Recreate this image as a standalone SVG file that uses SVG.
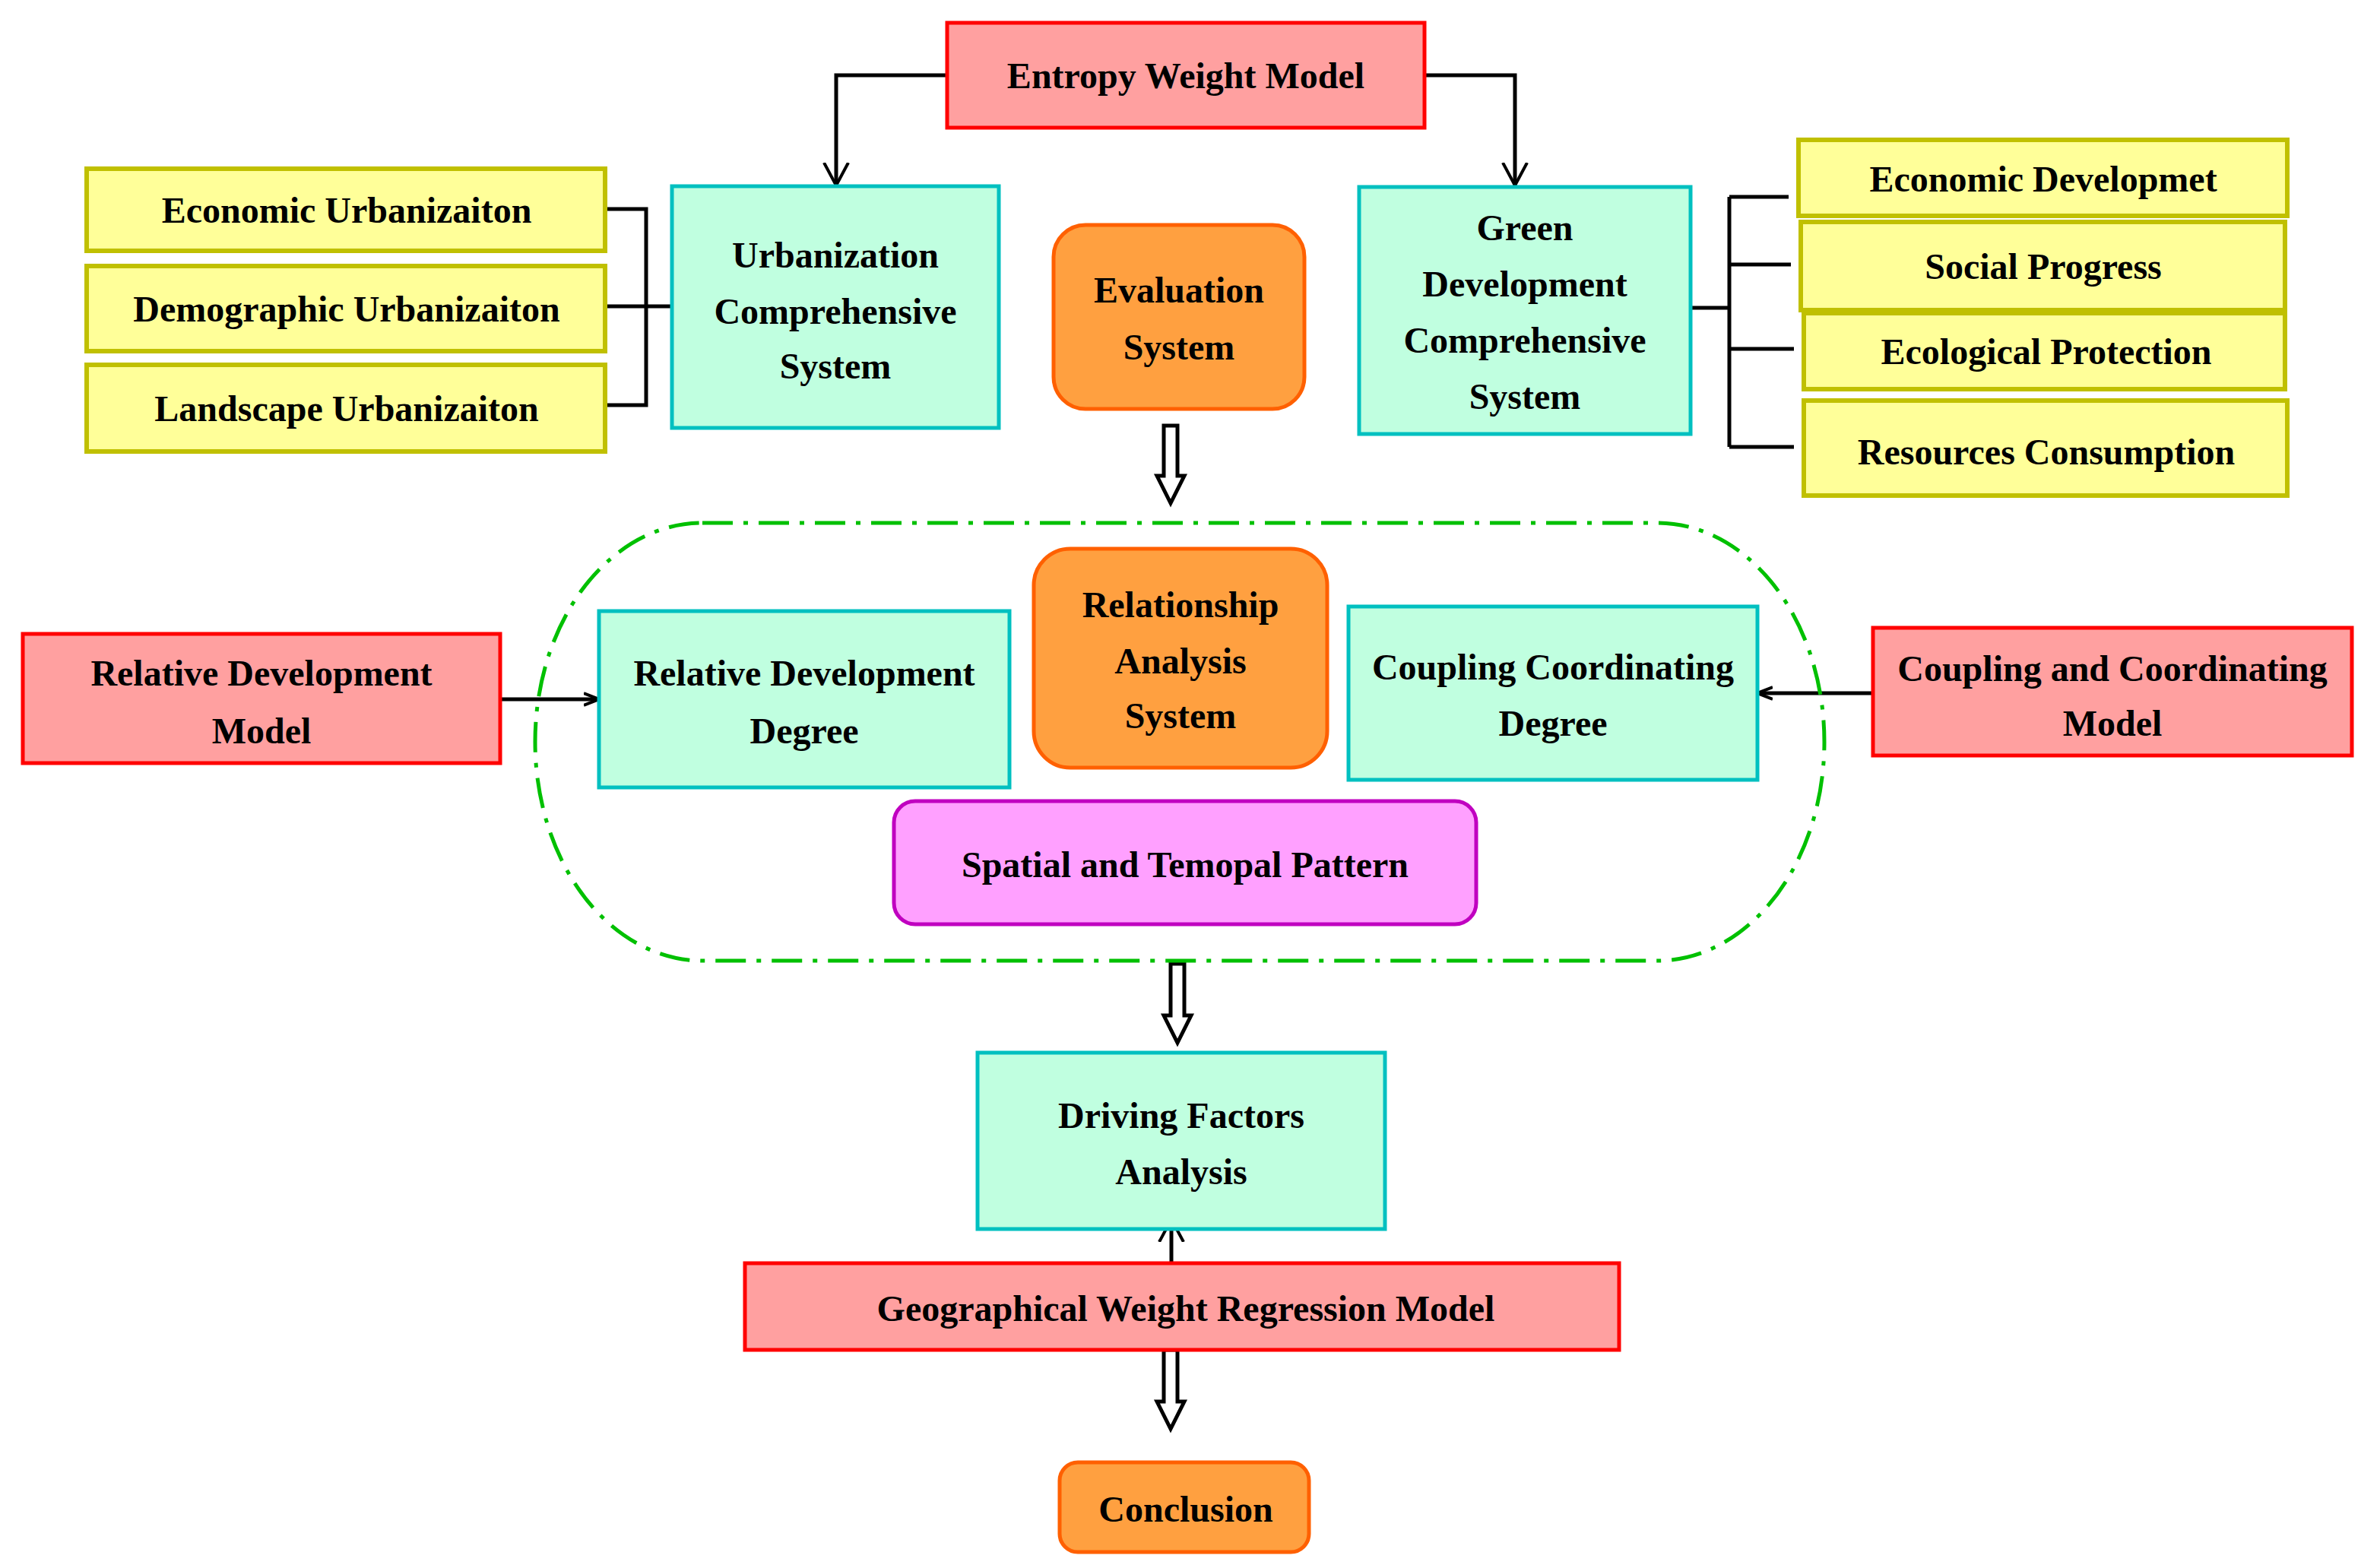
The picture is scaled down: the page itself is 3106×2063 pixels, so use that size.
<svg xmlns="http://www.w3.org/2000/svg" width="3106" height="2063" viewBox="0 0 3106 2063">
<style>
text{font-family:"Liberation Serif",serif;font-weight:bold;font-size:48px;text-anchor:middle;fill:#000}
.red{fill:#FFA0A0;stroke:#FF0000;stroke-width:5}
.teal{fill:#C0FFE0;stroke:#00C0C0;stroke-width:5}
.yel{fill:#FFFF99;stroke:#C0C000;stroke-width:6}
.org{fill:#FFA040;stroke:#FF6000;stroke-width:5}
.mag{fill:#FFA0FF;stroke:#C000C0;stroke-width:5}
.ln{fill:none;stroke:#000;stroke-width:5}
.hol{fill:#fff;stroke:#000;stroke-width:5;stroke-linejoin:miter}
</style>
<defs>
<marker id="ah" viewBox="0 0 20 20" refX="20" refY="10" markerWidth="20" markerHeight="20" markerUnits="userSpaceOnUse" orient="auto"><path d="M0,2 L20,10 L0,18" fill="none" stroke="#000" stroke-width="4"/></marker>
<marker id="av" viewBox="0 0 30 60" refX="30" refY="30" markerWidth="30" markerHeight="60" markerUnits="userSpaceOnUse" orient="auto"><path d="M0,14 L30,30 L0,46" fill="none" stroke="#000" stroke-width="4"/></marker>
</defs>
<g id="connectors">
<path class="ln" d="M1246,99 H1100 V244" marker-end="url(#av)"/>
<path class="ln" d="M1874,99 H1993 V244" marker-end="url(#av)"/>
<path class="ln" d="M796,275 H850 V533 H796 M796,403 H884"/>
<path class="ln" d="M2211,405 H2275 M2275,259 V588 M2275,259 H2353 M2275,348 H2356 M2275,459 H2360 M2275,588 H2360"/>
<path class="ln" d="M658,920 H788" marker-end="url(#ah)"/>
<path class="ln" d="M2464,912 H2312" marker-end="url(#ah)"/>
<path class="ln" d="M1541,1662 V1604" marker-end="url(#av)"/>
<path class="hol" d="M1531,560 H1549 V626 H1558 L1540,662 L1522,626 H1531 Z"/>
<path class="hol" d="M1540,1268 H1558 V1336 H1567 L1549,1372 L1531,1336 H1540 Z"/>
<path class="hol" d="M1531,1776 H1549 V1844 H1558 L1540,1880 L1522,1844 H1531 Z"/>
</g>
<path id="group-outline" d="M924,688 H2180 A220,288 0 0 1 2400,976 A220,288 0 0 1 2180,1264 H924 A220,288 0 0 1 704,976 A220,288 0 0 1 924,688 Z" fill="none" stroke="#00C000" stroke-width="5" stroke-dasharray="40,14,6,14"/>
<g id="entropy"><rect class="red" x="1246" y="30" width="628" height="138"/><text x="1560" y="116">Entropy Weight Model</text></g>
<g id="urban"><rect class="teal" x="884" y="245" width="430" height="318"/><text x="1099" y="352">Urbanization</text><text x="1099" y="426">Comprehensive</text><text x="1099" y="498">System</text></g>
<g id="eco-urb"><rect class="yel" x="114" y="222" width="682" height="108"/><text x="456" y="293">Economic Urbanizaiton</text></g>
<g id="demo-urb"><rect class="yel" x="114" y="350" width="682" height="112"/><text x="456" y="423">Demographic Urbanizaiton</text></g>
<g id="land-urb"><rect class="yel" x="114" y="480" width="682" height="114"/><text x="456" y="554">Landscape Urbanizaiton</text></g>
<g id="green"><rect class="teal" x="1788" y="246" width="436" height="325"/><text x="2006" y="316">Green</text><text x="2006" y="390">Development</text><text x="2006" y="464">Comprehensive</text><text x="2006" y="538">System</text></g>
<g id="eco-dev"><rect class="yel" x="2366" y="184" width="643" height="100"/><text x="2688" y="252">Economic Developmet</text></g>
<g id="social"><rect class="yel" x="2369" y="292" width="637" height="116"/><text x="2688" y="367">Social Progress</text></g>
<g id="ecol"><rect class="yel" x="2373" y="412" width="633" height="100"/><text x="2692" y="479">Ecological Protection</text></g>
<g id="res"><rect class="yel" x="2373" y="527" width="636" height="125"/><text x="2692" y="611">Resources Consumption</text></g>
<g id="eval"><rect class="org" x="1386" y="296" width="330" height="242" rx="42"/><text x="1551" y="398">Evaluation</text><text x="1551" y="473">System</text></g>
<g id="rel-sys"><rect class="org" x="1360" y="722" width="386" height="288" rx="48"/><text x="1553" y="812">Relationship</text><text x="1553" y="886">Analysis</text><text x="1553" y="958">System</text></g>
<g id="rel-deg"><rect class="teal" x="788" y="804" width="540" height="232"/><text x="1058" y="902">Relative Development</text><text x="1058" y="978">Degree</text></g>
<g id="coup-deg"><rect class="teal" x="1774" y="798" width="538" height="228"/><text x="2043" y="894">Coupling Coordinating</text><text x="2043" y="968">Degree</text></g>
<g id="spatial"><rect class="mag" x="1176" y="1054" width="766" height="162" rx="28"/><text x="1559" y="1154">Spatial and Temopal Pattern</text></g>
<g id="rel-model"><rect class="red" x="30" y="834" width="628" height="170"/><text x="344" y="902">Relative Development</text><text x="344" y="978">Model</text></g>
<g id="coup-model"><rect class="red" x="2464" y="826" width="630" height="168"/><text x="2779" y="896">Coupling and Coordinating</text><text x="2779" y="968">Model</text></g>
<g id="driving"><rect class="teal" x="1286" y="1385" width="536" height="232"/><text x="1554" y="1484">Driving Factors</text><text x="1554" y="1558">Analysis</text></g>
<g id="gwr"><rect class="red" x="980" y="1662" width="1150" height="114"/><text x="1560" y="1738">Geographical Weight Regression Model</text></g>
<g id="conclusion"><rect class="org" x="1394" y="1924" width="328" height="118" rx="24"/><text x="1560" y="2002">Conclusion</text></g>
</svg>
